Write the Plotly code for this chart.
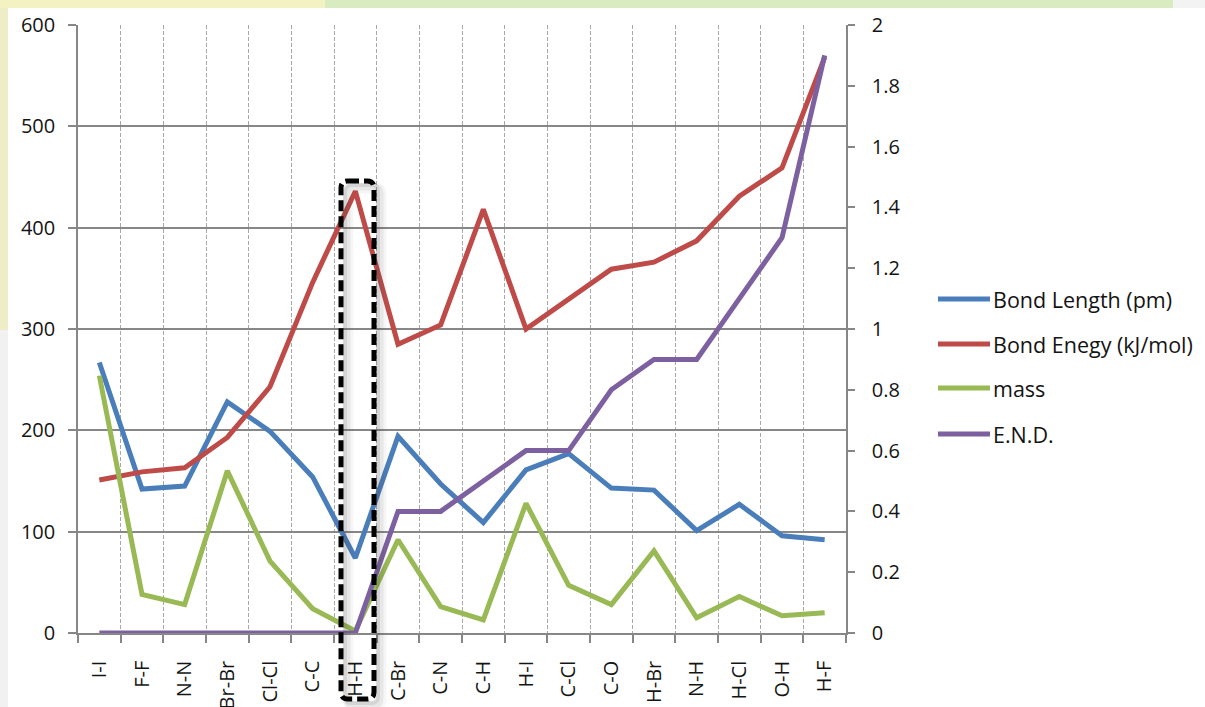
import plotly.graph_objects as go

# Bond data
bonds = ["I-I", "F-F", "N-N", "Br-Br", "Cl-Cl", "C-C", "H-H", "C-Br", "C-N",
         "C-H", "H-I", "C-Cl", "C-O", "H-Br", "N-H", "H-Cl", "O-H", "H-F"]
bond_length = [267, 142, 145, 228, 199, 154, 74, 194, 147, 109, 161, 177,
               143, 141, 101, 127, 96, 92]
bond_energy = [151, 159, 163, 193, 243, 346, 436, 285, 304, 418, 300, 329,
               359, 366, 387, 431, 459, 568]
mass = [254, 38, 28, 160, 71, 24, 2, 92, 26, 13, 128, 47, 28, 81, 15, 36, 17, 20]
end_diff = [0, 0, 0, 0, 0, 0, 0, 0.4, 0.4, 0.5, 0.6, 0.6, 0.8, 0.9, 0.9,
            1.1, 1.3, 1.9]

left_ticks = [0, 100, 200, 300, 400, 500, 600]
right_ticks = [0, 0.2, 0.4, 0.6, 0.8, 1, 1.2, 1.4, 1.6, 1.8, 2]

W, H = 1205, 707
ML, MR, MT, MB = 78, W - 846, 25, H - 633
PW, PH = W - ML - MR, H - MT - MB


def px(x):
    return (x - ML) / PW


def py(y):
    return (H - MB - y) / PH


FONT = "Open Sans"
TXT = "#141414"
AX = "#878787"

series = [
    ("Bond Length (pm)", bond_length, "#4a7ebb", "y"),
    ("Bond Enegy (kJ/mol)", bond_energy, "#be4b48", "y"),
    ("mass", mass, "#98b954", "y"),
    ("E.N.D.", end_diff, "#7d60a0", "y2"),
]

fig = go.Figure()
for name, vals, col, ax in series:
    fig.add_trace(go.Scatter(
        x=bonds, y=vals, name=name, mode="lines", yaxis=ax,
        line=dict(color=col, width=5), showlegend=False,
    ))

shapes = []
annotations = []

# slide background strips around the chart
for x0, x1, y0, y1, c in [
    (0, 8, 0, 330, "#eeedc6"),
    (0, 8, 330, H, "#f1f1f1"),
    (0, 325, 0, 8, "#f4f1c2"),
    (325, 1173, 0, 8, "#d9ebc1"),
    (1173, W, 0, 8, "#f3f3f3"),
]:
    shapes.append(dict(type="rect", xref="paper", yref="paper", layer="below",
                       x0=px(x0), x1=px(x1), y0=py(y1), y1=py(y0),
                       fillcolor=c, line=dict(width=0)))


def rounded(x0, y0, x1, y1, r):
    # x/y given in pixels, r in pixels; converted to paper units
    X0, X1, Y0, Y1 = px(x0), px(x1), py(y0), py(y1)
    rx, ry = r / PW, r / PH
    return (f"M{X0 + rx},{Y0} L{X1 - rx},{Y0} Q{X1},{Y0} {X1},{Y0 - ry} "
            f"L{X1},{Y1 + ry} Q{X1},{Y1} {X1 - rx},{Y1} L{X0 + rx},{Y1} "
            f"Q{X0},{Y1} {X0},{Y1 + ry} L{X0},{Y0 - ry} Q{X0},{Y0} {X0 + rx},{Y0} Z")


# highlight frame around H-H: soft shadow, then dashed outline
bx0, bx1, by0, by1 = 341, 374, 181, 699
for off, op, w in [(7, 0.05, 11), (6, 0.08, 7), (4, 0.12, 4)]:
    shapes.append(dict(type="path", xref="paper", yref="paper",
                       path=rounded(bx0 + off, by0 + off, bx1 + off, by1 + off, 7),
                       line=dict(color=f"rgba(70,70,70,{op})", width=w)))
shapes.append(dict(type="path", xref="paper", yref="paper",
                   path=rounded(bx0, by0, bx1, by1, 7),
                   line=dict(color="black", width=5, dash="11px,5px")))

# legend: swatch line + label per series
legend_y = [299, 344, 388, 434]
for (name, _, col, _), ly in zip(series, legend_y):
    shapes.append(dict(type="line", xref="paper", yref="paper",
                       x0=px(938), x1=px(990), y0=py(ly), y1=py(ly),
                       line=dict(color=col, width=5)))
    annotations.append(dict(xref="paper", yref="paper", x=px(991), y=py(ly),
                            xanchor="left", yanchor="middle", text=name,
                            showarrow=False,
                            font=dict(family=FONT, size=21.5, color=TXT)))

fig.update_layout(
    width=W, height=H,
    margin=dict(l=ML, r=MR, t=MT, b=MB, pad=0, autoexpand=False),
    paper_bgcolor="white", plot_bgcolor="white",
    font=dict(family=FONT, size=20, color=TXT),
    showlegend=False,
    xaxis=dict(
        type="category", range=[-0.5, len(bonds) - 0.5], automargin=False,
        tickson="boundaries", ticks="outside", ticklen=8, tickcolor=AX,
        tickwidth=1.5, showgrid=True, gridcolor="#a8a8a8", griddash="4px,2px",
        gridwidth=1, showline=True, linecolor=AX, linewidth=1.5,
        tickangle=-90, tickfont=dict(family=FONT, size=20, color=TXT),
        ticklabelstandoff=18, zeroline=False,
    ),
    yaxis=dict(
        range=[0, 600], tickvals=left_ticks, ticks="outside", ticklen=8,
        automargin=False,
        tickcolor=AX, tickwidth=1.5, showgrid=True, gridcolor=AX,
        gridwidth=1.5, showline=True, linecolor=AX, linewidth=1.5,
        zeroline=False, tickfont=dict(family=FONT, size=20, color=TXT),
        ticklabelstandoff=9,
    ),
    yaxis2=dict(
        range=[0, 2], tickvals=right_ticks, automargin=False,
        ticktext=[f"{v:g}" for v in right_ticks],
        overlaying="y", side="right", ticks="outside", ticklen=7,
        tickcolor=AX, tickwidth=1.5, showgrid=False, showline=True,
        linecolor=AX, linewidth=1.5, zeroline=False,
        tickfont=dict(family=FONT, size=20, color=TXT), ticklabelstandoff=13,
    ),
    shapes=shapes,
    annotations=annotations,
)

fig.write_html("out.html")
